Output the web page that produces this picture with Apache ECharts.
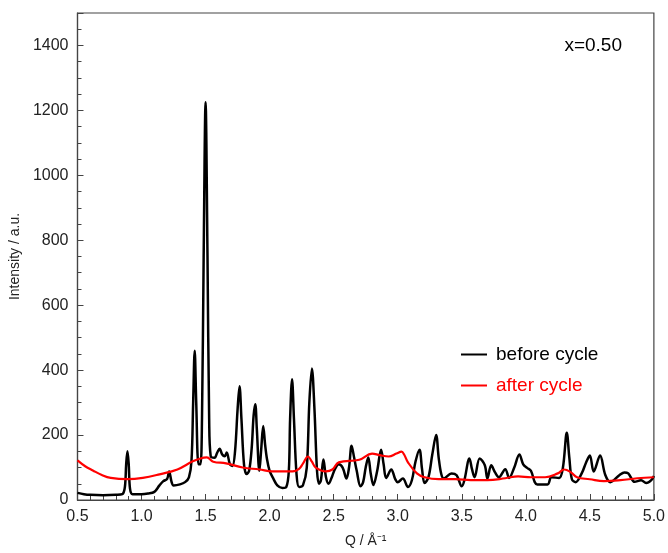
<!DOCTYPE html>
<html><head><meta charset="utf-8">
<script src="https://cdn.jsdelivr.net/npm/echarts@6/dist/echarts.min.js"></script>
<style>html,body{margin:0;padding:0;background:#fff}#c{width:668px;height:553px}</style>
</head><body><div id="c"></div>
<script>
var beforeQ = [0.50,0.55,0.60,0.70,0.80,0.85,0.87,0.88,0.89,0.90,0.91,0.93,1.00,1.05,1.10,1.14,1.17,1.20,1.215,1.235,1.25,1.30,1.34,1.37,1.39,1.403,1.415,1.427,1.445,1.46,1.472,1.485,1.50,1.515,1.528,1.54,1.57,1.59,1.61,1.63,1.65,1.665,1.69,1.71,1.73,1.75,1.765,1.78,1.80,1.82,1.84,1.86,1.875,1.888,1.90,1.92,1.935,1.95,1.965,1.98,2.00,2.03,2.06,2.10,2.13,2.15,2.16,2.175,2.19,2.21,2.23,2.26,2.29,2.31,2.33,2.35,2.37,2.385,2.40,2.42,2.44,2.46,2.49,2.51,2.54,2.57,2.60,2.62,2.64,2.66,2.68,2.71,2.73,2.75,2.77,2.79,2.81,2.84,2.87,2.89,2.91,2.95,2.98,3.00,3.04,3.08,3.11,3.14,3.17,3.19,3.21,3.24,3.27,3.30,3.32,3.34,3.36,3.42,3.46,3.50,3.52,3.56,3.58,3.60,3.64,3.68,3.70,3.73,3.76,3.79,3.84,3.87,3.91,3.95,3.98,4.01,4.04,4.07,4.09,4.17,4.20,4.26,4.29,4.32,4.34,4.36,4.39,4.44,4.47,4.50,4.53,4.58,4.62,4.66,4.73,4.77,4.80,4.85,4.90,4.94,4.98,5.00];
var beforeI = [22,18,16,15,16,18,40,110,150,110,35,18,18,20,25,45,58,65,88,55,45,48,55,70,120,300,460,300,110,110,250,750,1225,750,250,135,130,145,158,140,135,146,110,105,150,280,350,250,110,80,90,160,260,295,220,90,160,228,170,125,90,65,45,37,40,90,250,372,250,80,40,45,100,300,405,280,90,50,60,125,70,50,75,95,110,100,66,100,167,130,90,42,55,100,131,80,46,90,155,110,68,94,65,55,66,40,60,120,155,95,52,70,140,200,130,80,66,82,76,42,60,128,95,70,128,107,66,107,85,70,95,68,100,140,110,99,90,55,48,48,70,68,100,207,130,64,55,85,115,137,88,137,78,55,76,85,82,56,61,52,61,74];
var afterQ = [0.50,0.56,0.62,0.69,0.76,0.89,1.01,1.14,1.28,1.40,1.46,1.51,1.56,1.66,1.79,1.92,2.02,2.18,2.23,2.26,2.30,2.33,2.36,2.44,2.49,2.54,2.70,2.80,2.86,2.93,2.99,3.03,3.05,3.08,3.15,3.21,3.32,3.45,3.57,3.70,3.84,3.94,4.04,4.15,4.25,4.30,4.35,4.40,4.50,4.61,4.74,4.87,5.00];
var afterI = [122,104,91,77,68,64,68,79,94,119,128,131,118,113,100,94,88,88,96,112,134,118,100,88,94,116,124,143,138,134,143,149,140,116,82,70,64,64,61,61,67,73,70,70,82,94,86,70,64,58,61,67,70];
var xTicks = [0.5,1.0,1.5,2.0,2.5,3.0,3.5,4.0,4.5,5.0];
var yTicks = [0,200,400,600,800,1000,1200,1400];
var seriesNames = ['before cycle','after cycle'];
var panelLabel = 'x=0.50';

function pairs(q, v){ return q.map(function(x,i){ return [x, v[i]]; }); }
var FONT = 'Liberation Sans, Arial, sans-serif';
var chart = echarts.init(document.getElementById('c'), null, {renderer:'canvas'});
chart.setOption({
  animation:false,
  backgroundColor:'#fff',
  grid:{left:77,right:11,top:13,bottom:48,show:true,borderColor:'#444',borderWidth:1.2,backgroundColor:'transparent'},
  xAxis:{type:'value',min:xTicks[0],max:xTicks[xTicks.length-1],interval:0.5,
    name:'Q / Å\u207B\u00B9',nameLocation:'middle',nameGap:34,
    nameTextStyle:{fontFamily:FONT,fontSize:14,color:'#222'},
    axisLine:{lineStyle:{color:'#444',width:1.2}},
    axisTick:{inside:true,length:6,lineStyle:{color:'#444'}},
    minorTick:{show:true,splitNumber:5,length:4,lineStyle:{color:'#444'}},
    splitLine:{show:false},
    axisLabel:{fontFamily:FONT,fontSize:16,color:'#222',margin:9,formatter:function(v){return v.toFixed(1);}}},
  yAxis:{type:'value',min:0,max:1500,interval:200,
    name:'Intensity / a.u.',nameLocation:'middle',nameGap:51,
    nameTextStyle:{fontFamily:FONT,fontSize:14,color:'#222'},
    axisLine:{show:true,lineStyle:{color:'#444',width:1.2}},
    axisTick:{inside:true,length:6,lineStyle:{color:'#444'}},
    minorTick:{show:true,splitNumber:4,length:4,lineStyle:{color:'#444'}},
    splitLine:{show:false},
    axisLabel:{fontFamily:FONT,fontSize:16,color:'#222',margin:9,showMaxLabel:false,
      formatter:function(v){return yTicks.indexOf(v)>=0?String(v):'';}}},
  legend:{orient:'vertical',left:456,top:340,itemWidth:26,itemHeight:2,itemGap:12,icon:'rect',
    data:[{name:seriesNames[0],textStyle:{color:'#000'}},{name:seriesNames[1],textStyle:{color:'#ff0000'}}],
    textStyle:{fontFamily:FONT,fontSize:19,padding:[0,0,0,4]}},
  graphic:[{type:'text',right:46,top:36,style:{text:panelLabel,font:'19px '+FONT,fill:'#000'}}],
  series:[
    {name:seriesNames[0],type:'line',data:pairs(beforeQ,beforeI),showSymbol:false,smooth:0.35,
      lineStyle:{color:'#000',width:2.5},itemStyle:{color:'#000'}},
    {name:seriesNames[1],type:'line',data:pairs(afterQ,afterI),showSymbol:false,smooth:0.4,
      lineStyle:{color:'#ff0000',width:2.2},itemStyle:{color:'#ff0000'}}
  ]
});
</script></body></html>
